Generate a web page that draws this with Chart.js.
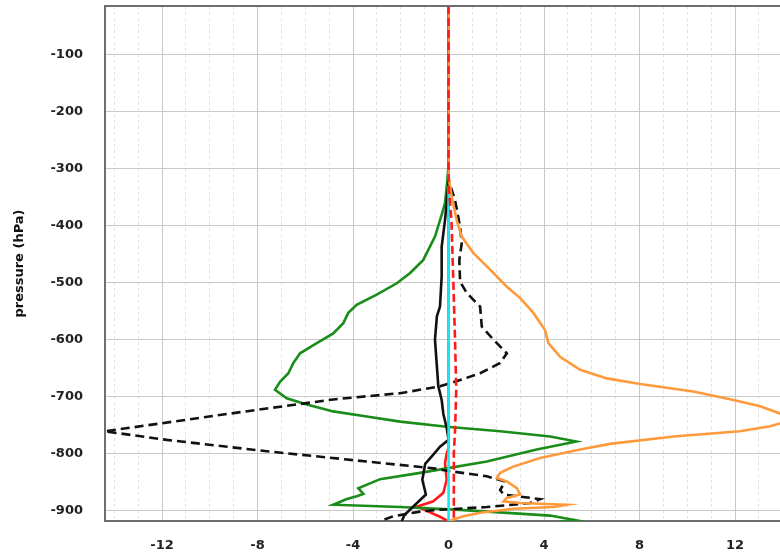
<!DOCTYPE html>
<html>
<head>
<meta charset="utf-8">
<script src="https://cdn.jsdelivr.net/npm/chart.js@4.4.1/dist/chart.umd.min.js"></script>
<style>
  html, body { margin: 0; padding: 0; background: #fff; }
  #wrap { width: 780px; height: 555px; position: relative; }
</style>
</head>
<body>
<div id="wrap"><canvas id="profileChart"></canvas></div>
<script>
// profile values (x) against pressure levels (hPa, negative = height)
const greenX = [0, 0, -0.05, -0.15, -0.29, -0.57, -1.06, -1.61, -2.17, -3.01, -3.85, -4.2, -4.41, -4.83, -5.52, -6.22, -6.5, -6.71, -7.06, -7.27, -6.78, -5.94, -4.83, -3.43, -2.03, -0.08, 2.16, 4.25, 5.35, 3.69, 1.6, -1.19, -2.87, -3.78, -3.57, -3.85, -4.26, -4.83, -2.03, 0.48, 4.25, 5.3, 4.4];
const greenP = [-14, -290, -320, -360, -381, -419, -460, -483, -501, -521, -539, -553, -571, -589, -606, -624, -641, -659, -674, -688, -703, -714, -726, -735, -744, -753, -761, -770, -779, -793, -814, -834, -845, -861, -871, -875, -880, -890, -894, -899, -909, -917, -921];

const orangeX = [0, 0, 0.13, 0.34, 0.55, 1.04, 1.74, 2.44, 3.0, 3.55, 4.04, 4.18, 4.67, 5.51, 6.63, 8.02, 10.25, 11.93, 13.05, 13.9, 14.3, 13.47, 12.2, 9.42, 6.76, 5.51, 3.83, 2.71, 2.16, 2.02, 2.44, 2.86, 3.0, 2.44, 2.3, 3.0, 4.95, 4.39, 2.71, 1.32, 0.62, 0.2, 0.05];
const orangeP = [-14, -314, -349, -390, -419, -448, -477, -507, -527, -553, -583, -606, -630, -653, -668, -678, -691, -706, -717, -730, -742, -752, -761, -770, -783, -793, -808, -823, -834, -843, -849, -861, -872, -878, -884, -887, -890, -894, -897, -904, -910, -916, -919];

const blackX = [0, 0, -0.15, -0.29, -0.29, -0.36, -0.49, -0.57, -0.49, -0.43, -0.29, -0.22, -0.08, 0, -0.36, -0.64, -0.98, -1.1, -0.95, -1.4, -1.85, -1.96];
const blackP = [-14, -325, -390, -437, -489, -542, -559, -600, -647, -682, -706, -730, -755, -776, -788, -802, -818, -846, -872, -890, -908, -919];

const blackDashX = [0, 0, 0.27, 0.48, 0.55, 0.45, 0.48, 0.76, 1.32, 1.39, 1.88, 2.44, 2.16, 1.32, 0.48, -0.36, -2.03, -4.83, -9.01, -14.4, -11.8, -7.61, -3.43, -0.64, 0.06, 1.6, 2.37, 2.16, 2.3, 3.83, 3.41, 1.6, -0.49, -1.19, -2.31, -2.87];
const blackDashP = [-14, -320, -355, -401, -431, -460, -498, -518, -542, -577, -600, -624, -641, -659, -671, -682, -694, -705, -729, -761, -776, -796, -814, -826, -831, -840, -849, -864, -872, -880, -887, -894, -899, -902, -910, -919];

const redX = [0, 0, -0.08, -0.15, -0.08, -0.22, -0.64, -1.3, -0.85, -0.36, 0];
const redP = [-14, -790, -800, -817, -846, -869, -884, -893, -902, -911, -919];

const redDashX = [0, 0, 0.12, 0.2, 0.27, 0.32, 0.27, 0.22, 0.22];
const redDashP = [-14, -330, -390, -500, -600, -690, -760, -800, -919];

const cyanX = [0, 0];
const cyanP = [-330, -919];

const xTicks = [-14, -13, -12, -11, -10, -9, -8, -7, -6, -5, -4, -3, -2, -1, 0, 1, 2, 3, 4, 5, 6, 7, 8, 9, 10, 11, 12, 13];
const yTicks = [-100, -200, -300, -400, -500, -600, -700, -800, -900];

const toPoints = (xs, ps) => xs.map((x, i) => ({ x: x, y: ps[i] }));

const lineSet = (label, xs, ps, color, dash, order) => ({
    label: label,
    data: toPoints(xs, ps),
    showLine: true,
    borderColor: color,
    backgroundColor: color,
    borderWidth: 2.6,
    borderDash: dash,
    pointRadius: 0,
    tension: 0,
    order: order
});

// frame line along the top of the plot area
const topFrame = {
    id: 'topFrame',
    afterDatasetsDraw(chart) {
        const { ctx, chartArea } = chart;
        ctx.save();
        ctx.strokeStyle = '#6e6e6e';
        ctx.lineWidth = 2;
        ctx.beginPath();
        ctx.moveTo(chartArea.left, chartArea.top);
        ctx.lineTo(chartArea.right, chartArea.top);
        ctx.stroke();
        ctx.restore();
    }
};

const tickFont = { family: 'DejaVu Sans', size: 13, weight: 'bold' };

const ctx = document.getElementById('profileChart').getContext('2d');
const profileChart = new Chart(ctx, {
    type: 'scatter',
    data: {
        datasets: [
            lineSet('red dashed', redDashX, redDashP, '#ff1a1a', [8, 4], 0),
            lineSet('orange', orangeX, orangeP, '#ff9a3c', [], 1),
            lineSet('cyan', cyanX, cyanP, '#1ee6f5', [], 2),
            lineSet('black dashed', blackDashX, blackDashP, '#111111', [9, 5], 3),
            lineSet('black', blackX, blackP, '#111111', [], 4),
            lineSet('green', greenX, greenP, '#1a8c1a', [], 5),
            lineSet('red', redX, redP, '#ff1a1a', [], 6)
        ]
    },
    options: {
        responsive: true,
        maintainAspectRatio: false,
        animation: false,
        layout: { padding: { top: 6, right: 0, left: 0, bottom: 0 } },
        plugins: {
            legend: { display: false },
            tooltip: { enabled: false }
        },
        scales: {
            x: {
                type: 'linear',
                min: -14.39,
                max: 13.88,
                afterBuildTicks: axis => { axis.ticks = xTicks.map(v => ({ value: v })); },
                afterFit: axis => { axis.height = 34; },
                grid: {
                    drawTicks: false,
                    color: c => (c.tick && c.tick.value % 4 === 0) ? '#c9c9c9' : '#e2e2e2',
                    lineWidth: 1
                },
                border: {
                    color: '#6e6e6e',
                    width: 2,
                    dash: c => (c.tick && c.tick.value % 4 === 0) ? [] : [3, 3]
                },
                ticks: {
                    autoSkip: false,
                    maxRotation: 0,
                    padding: 17,
                    color: '#222',
                    font: tickFont,
                    callback: v => (v % 4 === 0 ? String(v) : '')
                }
            },
            y: {
                type: 'linear',
                min: -918.5,
                max: -14,
                afterBuildTicks: axis => { axis.ticks = yTicks.map(v => ({ value: v })); },
                afterFit: axis => {
                    axis.width = 105;
                    // labels sit well inside the range, no extra room needed
                    axis.paddingTop = 0;
                    axis.paddingBottom = 0;
                },
                grid: {
                    drawTicks: false,
                    color: '#c9c9c9',
                    lineWidth: 1
                },
                border: { color: '#6e6e6e', width: 2 },
                ticks: {
                    padding: 22,
                    color: '#222',
                    font: tickFont
                },
                title: {
                    display: true,
                    text: 'pressure (hPa)',
                    color: '#111',
                    font: { family: 'DejaVu Sans', size: 13, weight: 'bold' },
                    padding: { top: 12, bottom: 0 }
                }
            }
        }
    },
    plugins: [topFrame]
});
</script>
</body>
</html>
